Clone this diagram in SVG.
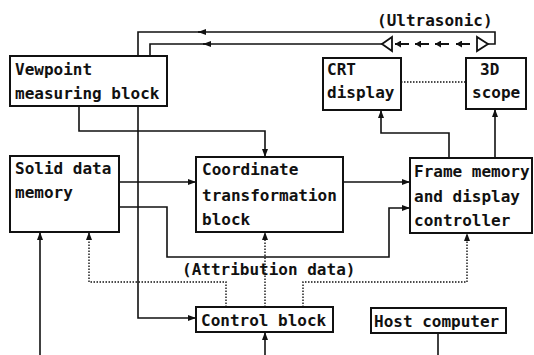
<svg xmlns="http://www.w3.org/2000/svg" width="534" height="355" viewBox="0 0 534 355">
  <style>
    .box { fill: #fff; stroke: #111; stroke-width: 2; }
    .lbl { font-family: "DejaVu Sans Mono", "Liberation Mono", monospace; font-weight: bold; font-size: 16px; fill: #111; }
    .ln { fill: none; stroke: #111; stroke-width: 1.6; }
    .sh { fill: none; stroke: #111; stroke-width: 2; }
    .dot { fill: none; stroke: #111; stroke-width: 1.4; stroke-dasharray: 1.5 1.5; }
    .tri { fill: #fff; stroke: #111; stroke-width: 1.8; }
  </style>
  <defs>
    <marker id="ah" viewBox="0 0 8 6" refX="8" refY="3" markerWidth="8" markerHeight="6" markerUnits="userSpaceOnUse" orient="auto">
      <path d="M0,0 L8,3 L0,6 Z" fill="#111"/>
    </marker>
    <marker id="sm" viewBox="0 0 6 7" refX="6" refY="3.5" markerWidth="6" markerHeight="7" markerUnits="userSpaceOnUse" orient="auto">
      <path d="M0,0 L6,3.5 L0,7 Z" fill="#111"/>
    </marker>
  </defs>

  <rect width="534" height="355" fill="#fff"/>

  <!-- connectors -->
  <g id="connectors">
    <!-- ultrasonic loop to the viewpoint block -->
    <path class="ln" d="M138,56 V32 H495 V44 H488"/>
    <path class="ln" d="M150,56 V44 H382"/>
    <path class="ln" d="M205,32 H198" marker-end="url(#ah)"/>
    <path class="ln" d="M210,44 H203" marker-end="url(#ah)"/>
    <polygon class="tri" points="382,44 392,37 392,51"/>
    <polygon class="tri" points="488,44 477,37 477,51"/>
    <path class="sh" d="M409,44 H395" marker-end="url(#sm)"/>
    <path class="sh" d="M429,44 H415" marker-end="url(#sm)"/>
    <path class="sh" d="M449,44 H435" marker-end="url(#sm)"/>
    <path class="sh" d="M470,44 H456" marker-end="url(#sm)"/>

    <!-- viewpoint block outputs -->
    <path class="ln" d="M79,106 V131 H265 V157" marker-end="url(#ah)"/>
    <path class="ln" d="M138,106 V318 H196" marker-end="url(#ah)"/>

    <!-- solid data memory outputs -->
    <path class="ln" d="M119,182 H196" marker-end="url(#ah)"/>
    <path class="ln" d="M119,207 H167 V257 H389 V208 H410" marker-end="url(#ah)"/>

    <!-- coordinate transformation to frame memory -->
    <path class="ln" d="M343,182 H410" marker-end="url(#ah)"/>

    <!-- frame memory to displays -->
    <path class="ln" d="M449,158 V133 H381 V110" marker-end="url(#ah)"/>
    <path class="ln" d="M495,158 V109" marker-end="url(#ah)"/>
    <path class="dot" d="M401,82 H466"/>

    <!-- attribution data from control block -->
    <path class="dot" d="M226,307 V282 H89 V232" marker-end="url(#ah)"/>
    <path class="dot" d="M265,307 V232" marker-end="url(#ah)"/>
    <path class="dot" d="M303,307 V282 H467 V233" marker-end="url(#ah)"/>

    <!-- lines entering from below -->
    <path class="ln" d="M40,355 V232" marker-end="url(#ah)"/>
    <path class="ln" d="M265,355 V332" marker-end="url(#ah)"/>
    <path class="ln" d="M438,333 V355"/>
  </g>

  <text class="lbl" x="377" y="26">(Ultrasonic)</text>
  <text class="lbl" x="182" y="275">(Attribution data)</text>

  <!-- nodes -->
  <g id="viewpoint">
    <rect class="box" x="10" y="56" width="157" height="50"/>
    <text class="lbl" x="15" y="75">Vewpoint</text>
    <text class="lbl" x="15" y="99">measuring block</text>
  </g>
  <g id="crt">
    <rect class="box" x="323" y="58" width="78" height="52"/>
    <text class="lbl" x="327" y="75">CRT</text>
    <text class="lbl" x="327" y="98">display</text>
  </g>
  <g id="scope">
    <rect class="box" x="466" y="58" width="60" height="51"/>
    <text class="lbl" x="480" y="75">3D</text>
    <text class="lbl" x="472" y="98">scope</text>
  </g>
  <g id="solid">
    <rect class="box" x="10" y="156" width="109" height="76"/>
    <text class="lbl" x="15" y="174">Solid data</text>
    <text class="lbl" x="15" y="198">memory</text>
  </g>
  <g id="coord">
    <rect class="box" x="196" y="157" width="147" height="75"/>
    <text class="lbl" x="202" y="175">Coordinate</text>
    <text class="lbl" x="202" y="201">transformation</text>
    <text class="lbl" x="202" y="225">block</text>
  </g>
  <g id="frame">
    <rect class="box" x="410" y="158" width="122" height="75"/>
    <text class="lbl" x="414" y="177">Frame memory</text>
    <text class="lbl" x="414" y="202">and display</text>
    <text class="lbl" x="414" y="226">controller</text>
  </g>
  <g id="control">
    <rect class="box" x="196" y="307" width="137" height="25"/>
    <text class="lbl" x="201" y="326">Control block</text>
  </g>
  <g id="host">
    <rect class="box" x="371" y="308" width="135" height="25"/>
    <text class="lbl" x="374" y="327">Host computer</text>
  </g>
</svg>
